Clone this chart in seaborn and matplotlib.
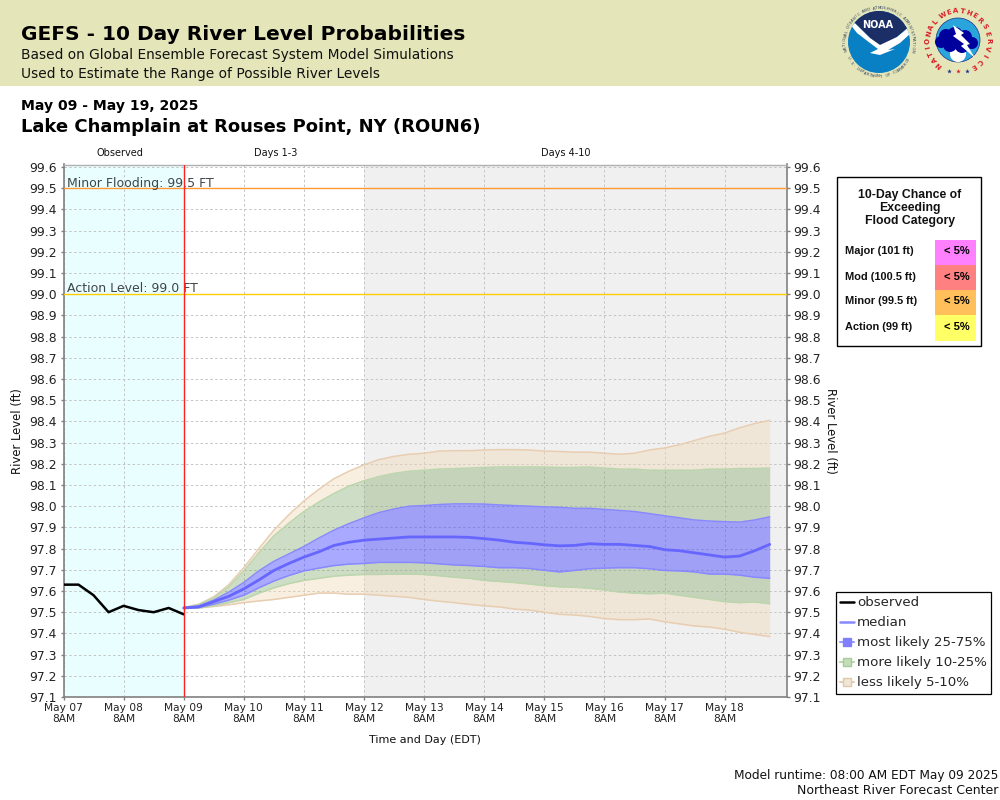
import numpy as np
import pandas as pd
import matplotlib
matplotlib.use('Agg')
import matplotlib.pyplot as plt
from matplotlib.lines import Line2D
from matplotlib.patches import Circle, Polygon, Rectangle
import seaborn as sns

# observed levels, every 6 hours from May 07 8AM
obs_levels = [97.63, 97.63, 97.58, 97.50, 97.53, 97.51, 97.50, 97.52, 97.49]

# forecast percentiles, every 6 hours from May 09 8AM
p95 = [97.522, 97.538, 97.573, 97.63, 97.71, 97.80, 97.887, 97.96, 98.025, 98.08,
       98.13, 98.165, 98.195, 98.22, 98.235, 98.245, 98.25, 98.26, 98.262, 98.262,
       98.265, 98.267, 98.267, 98.265, 98.26, 98.258, 98.255, 98.255, 98.25, 98.245,
       98.25, 98.265, 98.275, 98.29, 98.31, 98.33, 98.345, 98.37, 98.39, 98.405]
p90 = [97.522, 97.535, 97.567, 97.62, 97.695, 97.78, 97.86, 97.92, 97.975, 98.02,
       98.06, 98.095, 98.12, 98.14, 98.155, 98.165, 98.17, 98.175, 98.177, 98.18,
       98.183, 98.185, 98.185, 98.185, 98.185, 98.183, 98.183, 98.185, 98.18, 98.175,
       98.175, 98.17, 98.17, 98.17, 98.17, 98.175, 98.175, 98.178, 98.178, 98.18]
p75 = [97.522, 97.53, 97.557, 97.595, 97.64, 97.695, 97.74, 97.775, 97.81, 97.85,
       97.887, 97.918, 97.945, 97.97, 97.987, 98.0, 98.003, 98.008, 98.011, 98.011,
       98.01, 98.006, 98.003, 98.0, 97.997, 97.995, 97.99, 97.99, 97.985, 97.98,
       97.975, 97.965, 97.955, 97.945, 97.935, 97.93, 97.927, 97.925, 97.935, 97.95]
median = [97.52, 97.525, 97.55, 97.575, 97.61, 97.652, 97.697, 97.73, 97.76, 97.785,
          97.815, 97.83, 97.84, 97.845, 97.85, 97.855, 97.855, 97.855, 97.855, 97.853,
          97.847, 97.84, 97.83, 97.825, 97.818, 97.813, 97.815, 97.823, 97.82, 97.82,
          97.815, 97.81, 97.795, 97.79, 97.78, 97.77, 97.76, 97.765, 97.79, 97.82]
p25 = [97.518, 97.522, 97.538, 97.557, 97.58, 97.615, 97.647, 97.673, 97.695, 97.708,
       97.72, 97.727, 97.73, 97.735, 97.735, 97.735, 97.733, 97.728, 97.723, 97.72,
       97.716, 97.71, 97.71, 97.706, 97.698, 97.69, 97.697, 97.705, 97.708, 97.71,
       97.71, 97.705, 97.697, 97.695, 97.69, 97.68, 97.68, 97.675, 97.665, 97.66]
p10 = [97.518, 97.52, 97.53, 97.545, 97.56, 97.59, 97.615, 97.635, 97.65, 97.66,
       97.67, 97.675, 97.678, 97.678, 97.68, 97.68, 97.678, 97.672, 97.665, 97.66,
       97.65, 97.645, 97.64, 97.633, 97.625, 97.62, 97.618, 97.613, 97.605, 97.595,
       97.59, 97.587, 97.59, 97.58, 97.57, 97.56, 97.55, 97.545, 97.548, 97.54]
p05 = [97.518, 97.52, 97.527, 97.535, 97.545, 97.553, 97.56, 97.57, 97.58, 97.59,
       97.59, 97.585, 97.585, 97.58, 97.575, 97.57, 97.56, 97.552, 97.545, 97.537,
       97.53, 97.525, 97.515, 97.51, 97.50, 97.49, 97.487, 97.48, 97.47, 97.465,
       97.465, 97.468, 97.455, 97.445, 97.435, 97.43, 97.42, 97.405, 97.395, 97.385]

y_ticks = [round(97.1 + 0.1 * i, 1) for i in range(26)]
day_ticks = ['May 07', 'May 08', 'May 09', 'May 10', 'May 11', 'May 12',
             'May 13', 'May 14', 'May 15', 'May 16', 'May 17', 'May 18']
flood_labels = ['Major (101 ft)', 'Mod (100.5 ft)', 'Minor (99.5 ft)', 'Action (99 ft)']
flood_chances = ['< 5%', '< 5%', '< 5%', '< 5%']
flood_colors = ['#FF80FF', '#FF8080', '#FFC05C', '#FFFF66']

obs_df = pd.DataFrame({'time': pd.date_range('2025-05-07 08:00', periods=len(obs_levels), freq='6h'),
                       'level': obs_levels})
fc_df = pd.DataFrame({'time': pd.date_range('2025-05-09 08:00', periods=len(median), freq='6h'),
                      'median': median})

sns.set_style('white')
plt.rcParams['font.family'] = ['DejaVu Sans']

fig = plt.figure(figsize=(10, 8), dpi=100)
ax = fig.add_axes([63.5 / 1000, 1 - 697 / 800, 723 / 1000, 532.5 / 800])

t0 = pd.Timestamp('2025-05-07 08:00')
t_fc = pd.Timestamp('2025-05-09 08:00')
t_long = pd.Timestamp('2025-05-12 08:00')
t_end = t0 + pd.Timedelta(hours=288.7)

ax.axvspan(t0, t_fc, color='#E9FFFF', lw=0, zorder=0)
ax.axvspan(t_long, t_end, color='#F0F0F0', lw=0, zorder=0)

ax.fill_between(fc_df['time'], p90, p95, color='#F0D9B7', alpha=0.42, lw=0, zorder=2)
ax.fill_between(fc_df['time'], p05, p10, color='#F0D9B7', alpha=0.42, lw=0, zorder=2)
ax.fill_between(fc_df['time'], p75, p90, color='#80A667', alpha=0.38, lw=0, zorder=2)
ax.fill_between(fc_df['time'], p10, p25, color='#80A667', alpha=0.38, lw=0, zorder=2)
ax.fill_between(fc_df['time'], p25, p75, color='#3333FF', alpha=0.42, lw=0, zorder=2)

for vals, col in [(p95, '#E8CDB0'), (p05, '#E8CDB0'), (p90, '#BBD5AC'), (p10, '#BBD5AC'),
                  (p75, '#8888FF'), (p25, '#8888FF')]:
    ax.plot(fc_df['time'], vals, color=col, lw=1.1, zorder=3)

sns.lineplot(data=fc_df, x='time', y='median', color='#6666FF', linewidth=2.0, ax=ax, zorder=4, legend=False)
sns.lineplot(data=obs_df, x='time', y='level', color='black', linewidth=1.8, ax=ax, zorder=4, legend=False)

ax.axhline(99.5, color='#FF9933', lw=1, zorder=3)
ax.axhline(99.0, color='#FFCC00', lw=1, zorder=3)
ax.axvline(t_fc, color='#FF2020', lw=1, zorder=5)

ax.text(t0 + pd.Timedelta(hours=1.5), 99.5 + 0.008, 'Minor Flooding: 99.5 FT', color='#404548', fontsize=9, va='baseline', zorder=4)
ax.text(t0 + pd.Timedelta(hours=1.5), 99.0 + 0.009, 'Action Level: 99.0 FT', color='#404548', fontsize=9, va='baseline', zorder=4)

ax.set_xlim(t0, t_end)
ax.set_ylim(97.1, 99.612)
ax.set_yticks(y_ticks)
ax.set_yticklabels(['%.1f' % v for v in y_ticks])
ax.set_xticks([t0 + pd.Timedelta(days=i) for i in range(len(day_ticks))])
ax.set_xticklabels([d + '\n8AM' for d in day_ticks], fontsize=7.7, linespacing=1.05)
ax.set_xlabel('')
ax.set_ylabel('')

ax.set_axisbelow(True)
ax.grid(True, color='#C4C4C4', lw=0.7, ls=(0, (2.5, 2.5)))
ax.tick_params(axis='y', labelsize=8.9, left=True, right=True, labelright=True, length=2.2, width=1, color='#808080', pad=2.4, labelcolor='#222222')
ax.tick_params(axis='x', bottom=True, length=2.5, width=1, color='#808080', pad=2, labelcolor='#222222')
for side in ['left', 'bottom', 'right']:
    ax.spines[side].set_color('#808080')
    ax.spines[side].set_linewidth(1.2)
ax.spines['top'].set_color('#B0B0B0')
ax.spines['top'].set_linewidth(1.0)

handles = [
    Line2D([], [], color='black', lw=1.8),
    Line2D([], [], color='#8888FF', lw=1.8),
    Line2D([], [], color='#9C9CFF', lw=1.5, marker='s', ms=5.5, mfc='#8080FF', mec='#8080FF'),
    Line2D([], [], color='#BBD5AC', lw=1.5, marker='s', ms=5.5, mfc='#C4DDB8', mec='#A8CC98'),
    Line2D([], [], color='#E8CDB0', lw=1.5, marker='s', ms=5.5, mfc='#F0E6D8', mec='#E0C8AC'),
]
fig.legend(handles, ['observed', 'median', 'most likely 25-75%', 'more likely 10-25%', 'less likely 5-10%'],
           loc='upper left', bbox_to_anchor=(835.5 / 1000, 1 - 591.5 / 800), bbox_transform=fig.transFigure,
           fontsize=9.6, frameon=True, fancybox=False, edgecolor='black', framealpha=1,
           borderaxespad=0, borderpad=0.35, labelspacing=0.53, handlelength=1.05, handletextpad=0.2)
fig.legends[0].get_frame().set_linewidth(0.9)

# overlay in pixel coordinates for header, table and logos
ov = fig.add_axes([0, 0, 1, 1], zorder=-1)
ov.set_xlim(0, 1000)
ov.set_ylim(800, 0)
ov.axis('off')
top = fig.add_axes([0, 0, 1, 1], zorder=5)
top.set_xlim(0, 1000)
top.set_ylim(800, 0)
top.axis('off')
top.patch.set_alpha(0)

ov.add_patch(Rectangle((0, 0), 1000, 85.5, color='#E4E5B8', lw=0))
top.text(21, 40, 'GEFS - 10 Day River Level Probabilities', fontsize=14.5, fontweight='bold', color='black', va='baseline')
top.text(21, 59, 'Based on Global Ensemble Forecast System Model Simulations', fontsize=9.93, color='#111111', va='baseline')
top.text(21, 78, 'Used to Estimate the Range of Possible River Levels', fontsize=9.93, color='#111111', va='baseline')
top.text(21, 110, 'May 09 - May 19, 2025', fontsize=10.1, fontweight='bold', color='black', va='baseline')
top.text(21, 132, 'Lake Champlain at Rouses Point, NY (ROUN6)', fontsize=12.95, fontweight='bold', color='black', va='baseline')

for lab, cx in [('Observed', 120), ('Days 1-3', 276), ('Days 4-10', 566)]:
    top.text(cx, 153.5, lab, fontsize=7, ha='center', va='center', color='#111111')
top.text(425, 740, 'Time and Day (EDT)', fontsize=8, ha='center', va='center', color='#111111')
top.text(17.5, 431, 'River Level (ft)', fontsize=8.4, rotation=90, ha='center', va='center', color='#111111')
top.text(831, 431, 'River Level (ft)', fontsize=8.4, rotation=-90, ha='center', va='center', color='#111111')
top.text(998, 775, 'Model runtime: 08:00 AM EDT May 09 2025', fontsize=8.77, ha='right', va='center', color='#111111')
top.text(998, 791, 'Northeast River Forecast Center', fontsize=9, ha='right', va='center', color='#111111')

# flood category table
top.add_patch(Rectangle((836.5, 176.5), 144, 169, fc='white', ec='black', lw=1))
for i, line in enumerate(['10-Day Chance of', 'Exceeding', 'Flood Category']):
    top.text(910, 195 + 13 * i, line, family='Liberation Sans', fontsize=8.8, fontweight='bold', ha='center', va='center', color='#111111')
for i in range(4):
    y0 = 240 + 25 * i
    top.add_patch(Rectangle((935, y0), 41, 26 if i == 3 else 25, fc=flood_colors[i], lw=0))
    top.text(845, y0 + 11.5, flood_labels[i], family='Liberation Sans', fontsize=7.9, fontweight='bold', va='center', color='#111111')
    top.text(970, y0 + 11.5, flood_chances[i], family='Liberation Sans', fontsize=8, fontweight='bold', ha='right', va='center', color='black')


def circle_text(axis, s, cx, cy, r, start, end, flip=False, **kw):
    # angles in degrees, clockwise from the top of the circle
    for ch, a in zip(s, np.linspace(start, end, len(s))):
        rad = np.deg2rad(a)
        rot = 180 - a if flip else -a
        axis.text(cx + r * np.sin(rad), cy - r * np.cos(rad), ch, rotation=rot,
                  rotation_mode='anchor', ha='center', va='center', **kw)


# NOAA logo
nx, ny = 879, 42
disc = Circle((nx, ny), 31, fc='#0A80C4', ec='none')
top.add_patch(disc)
navy = Polygon([(845, 5), (912, 5), (912, 24), (897, 37), (880, 46), (870, 38), (855, 23), (845, 23)], fc='#1B2F66', ec='none')
top.add_patch(navy)
navy.set_clip_path(disc)
bird = Polygon([(850, 24), (855, 23.3), (870, 38), (880, 45), (897, 37), (909, 27), (911, 33), (900, 43), (888, 50),
                (895, 49), (880, 55), (870, 53), (878, 49), (870, 43), (857, 33)], fc='white', ec='none')
top.add_patch(bird)
bird.set_clip_path(disc)
top.text(878, 25, 'NOAA', fontsize=7, fontweight='bold', color='white', ha='center', va='center')
circle_text(top, 'NATIONAL OCEANIC AND ATMOSPHERIC ADMINISTRATION', nx, ny, 34, -104, 104, fontsize=2.8, color='#33405F')
circle_text(top, 'U.S. DEPARTMENT OF COMMERCE', nx, ny, 34.5, 242, 120, flip=True, fontsize=2.8, color='#33405F')

# NWS logo
wx, wy = 958, 40
top.add_patch(Circle((wx, wy), 22, fc='#2AA5DC', ec='#1B2F8F', lw=0.5))
top.add_patch(Circle((wx, wy + 14), 8, fc='white', ec='none'))
for cx, cy, r in [(941, 42, 6), (946, 36, 7), (955, 35, 8), (965, 37, 7), (972, 43, 6), (950, 45, 7), (962, 46, 7)]:
    top.add_patch(Circle((cx, cy), r, fc='#00009C', ec='none'))
top.add_patch(Polygon([(953, 25), (964, 33), (961, 35), (970, 44), (967, 45), (975, 58), (961, 46), (964, 44), (953, 36), (956, 34)],
                      fc='white', ec='none'))
circle_text(top, 'NATIONAL', wx, wy + 1, 30, -141, -50, fontsize=5, fontweight='bold', color='#D8202A')
circle_text(top, 'WEATHER', wx, wy + 1, 30, -30, 47, fontsize=5, fontweight='bold', color='#D8202A')
circle_text(top, 'SERVICE', wx, wy + 1, 30, 61, 148, fontsize=5, fontweight='bold', color='#D8202A')
for dx, col in [(-9, '#1B2F8F'), (0, '#D8202A'), (9, '#1B2F8F')]:
    top.plot(wx + dx, wy + 31, marker='*', ms=3.5, color=col, mec='none')

fig.savefig('out.png', dpi=100)
